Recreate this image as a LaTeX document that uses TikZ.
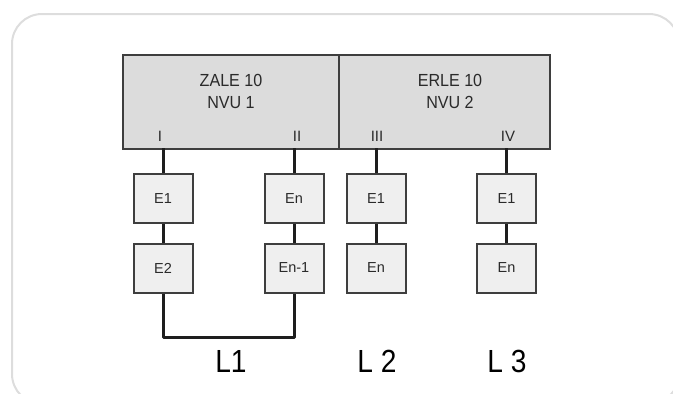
\documentclass[tikz,border=0pt]{standalone}
\usepackage{fontspec}
\setmainfont{Liberation Sans}
\definecolor{framegray}{HTML}{DDDDDD}
\definecolor{boxline}{HTML}{3E3E3E}
\definecolor{mainfill}{HTML}{DCDCDC}
\definecolor{unitfill}{HTML}{EFEFEF}
\definecolor{txt}{HTML}{2A2A2A}
\definecolor{wire}{HTML}{1E1E1E}
\begin{document}
\begin{tikzpicture}[x=1pt,y=-1pt,
  mainbox/.style={draw=boxline,line width=2pt,fill=mainfill,minimum width=216pt,minimum height=94pt,inner sep=0pt,anchor=north west},
  unitbox/.style={draw=boxline,line width=2pt,fill=unitfill,minimum width=59pt,minimum height=49pt,inner sep=0pt,font=\fontsize{14.5}{16}\selectfont,text=txt},
  title/.style={font=\fontsize{17.5}{22}\selectfont,text=txt,align=center,inner sep=0pt,xscale=0.92},
  port/.style={font=\fontsize{15}{16}\selectfont,text=txt,inner sep=0pt},
  lbl/.style={font=\fontsize{32}{34}\selectfont,text=black,inner sep=0pt,xscale=0.88},
  wireline/.style={draw=wire,line width=3pt}]
\useasboundingbox (0,0) rectangle (673,394);
\draw[framegray,line width=2pt,rounded corners=30pt] (12,14) rectangle (679,404);
% main boxes
\node[mainbox] (zale) at (122,54) {};
\node[mainbox,minimum width=211pt] (erle) at (338,54) {};
\node[title] (zt) at (231,91) {ZALE 10\\NVU 1};
\node[title] (et) at (450,91) {ERLE 10\\NVU 2};
\node[port] (p1) at (160,136) {I};
\node[port] (p2) at (297,136) {II};
\node[port] (p3) at (377,136) {III};
\node[port] (p4) at (508,136) {IV};
\coordinate (c1) at (163,148);
\coordinate (c2) at (294,148);
\coordinate (c3) at (376,148);
\coordinate (c4) at (506.5,148);
% unit boxes
\node[unitbox] (a1) at (163,198.5) {E1};
\node[unitbox] (a2) at (163,268) {E2};
\node[unitbox] (b1) at (294,198.5) {En};
\node[unitbox] (b2) at (294,268) {En-1};
\node[unitbox] (d1) at (376,198.5) {E1};
\node[unitbox] (d2) at (376,268) {En};
\node[unitbox] (f1) at (506.5,198.5) {E1};
\node[unitbox] (f2) at (506.5,268) {En};
% wires
\draw[wireline] (c1) -- (a1.north);
\draw[wireline] (a1.south) -- (a2.north);
\draw[wireline] (c2) -- (b1.north);
\draw[wireline] (b1.south) -- (b2.north);
\draw[wireline] (c3) -- (d1.north);
\draw[wireline] (d1.south) -- (d2.north);
\draw[wireline] (c4) -- (f1.north);
\draw[wireline] (f1.south) -- (f2.north);
\draw[wireline,line join=round] (a2.south) -- ++(0,44) -| (b2.south);
% labels
\node[lbl] (l1) at (231,361) {L1};
\node[lbl] (l2) at (377,361) {L 2};
\node[lbl] (l3) at (507,361) {L 3};
\end{tikzpicture}
\end{document}
